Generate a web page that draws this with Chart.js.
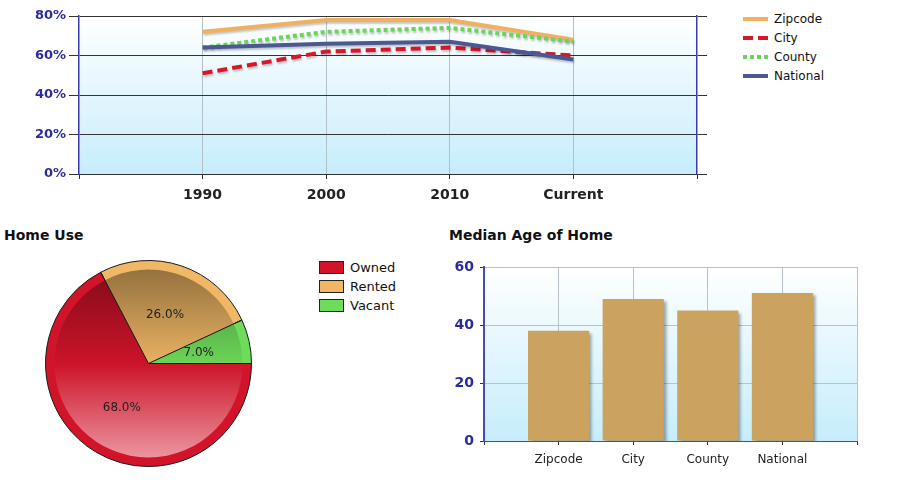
<!DOCTYPE html>
<html>
<head>
<meta charset="utf-8">
<script src="https://cdn.jsdelivr.net/npm/chart.js@4.4.1/dist/chart.umd.min.js"></script>
<style>
  body { margin: 0; width: 900px; height: 486px; background: #fff; position: relative; overflow: hidden; font-family: 'DejaVu Sans', sans-serif; }
  .box { position: absolute; }
  .title { position: absolute; font-weight: bold; font-size: 14px; line-height: 17px; color: #111; }
  .legend { position: absolute; color: #111; }
  .legend .row { display: flex; align-items: center; height: 19px; }
  .legend svg { margin-right: 6px; }
  .legend .swatch { width: 23px; height: 11px; border: 1px solid #222; margin-right: 6px; }
</style>
</head>
<body>
<div class="box" style="left:0;top:0;width:712px;height:215px"><canvas id="trendChart"></canvas></div>
<div class="legend" id="trendLegend" style="left:743px;top:9px;font-size:12px"></div>

<div class="title" style="left:4px;top:227px">Home Use</div>
<div class="box" style="left:45px;top:260px;width:207px;height:207px"><canvas id="useChart"></canvas></div>
<div class="legend" id="useLegend" style="left:319px;top:258px;font-size:13px"></div>

<div class="title" style="left:449px;top:227px">Median Age of Home</div>
<div class="box" style="left:420px;top:250px;width:445px;height:230px"><canvas id="ageChart"></canvas></div>

<script>
// ownership rate trend
const years = ['1990', '2000', '2010', 'Current'];
const zipcodeRate = [72, 78, 78, 68];
const cityRate = [51, 62, 64, 60];
const countyRate = [64, 72, 74, 67];
const nationalRate = [64, 66, 67, 58];
const rateTicks = [0, 20, 40, 60, 80];

// home use split
const useLabels = ['Owned', 'Rented', 'Vacant'];
const useShare = [68, 26, 7];

// median age of home
const areas = ['Zipcode', 'City', 'County', 'National'];
const medianAge = [38, 49, 45, 51];
const ageTicks = [0, 20, 40, 60];

const seriesNames = ['Zipcode', 'City', 'County', 'National'];
const seriesColors = ['#F0B060', '#D7182A', '#6CD45A', '#4C5892'];
const seriesDashes = [[], [10, 5], [4, 3], []];
const useColors = ['#D2142A', '#F0B865', '#6EDC5A'];

const FONT = 'DejaVu Sans';
const pad = arr => [null, ...arr, null];

function shade(hex, f) {
  const n = parseInt(hex.slice(1), 16);
  const r = Math.round(((n >> 16) & 255) * f), g = Math.round(((n >> 8) & 255) * f), b = Math.round((n & 255) * f);
  return `rgb(${r},${g},${b})`;
}
function tint(hex, t) {
  const n = parseInt(hex.slice(1), 16);
  const mix = c => Math.round(c * (1 - t) + 255 * t);
  return `rgb(${mix((n >> 16) & 255)},${mix((n >> 8) & 255)},${mix(n & 255)})`;
}

// gradient behind the plot area
const plotBackground = {
  id: 'plotBackground',
  beforeDraw(chart, args, opts) {
    const { ctx, chartArea: a } = chart;
    const g = ctx.createLinearGradient(0, a.top, 0, a.bottom);
    g.addColorStop(0, opts.colors[0]);
    g.addColorStop(1, opts.colors[1]);
    ctx.save();
    ctx.fillStyle = g;
    ctx.fillRect(a.left, a.top, a.width, a.height);
    ctx.restore();
  }
};

// soft drop shadow under lines and bars
const markShadow = {
  id: 'markShadow',
  beforeDatasetsDraw(chart, args, opts) {
    const ctx = chart.ctx;
    ctx.save();
    ctx.shadowColor = opts.color;
    ctx.shadowBlur = opts.blur;
    ctx.shadowOffsetX = opts.x;
    ctx.shadowOffsetY = opts.y;
  },
  afterDatasetsDraw(chart) {
    chart.ctx.restore();
  }
};

// shaded inner disc, slice edges and percentage labels
const pieShading = {
  id: 'pieShading',
  afterDatasetsDraw(chart) {
    const ctx = chart.ctx;
    const meta = chart.getDatasetMeta(0);
    const colors = chart.data.datasets[0].backgroundColor;
    meta.data.forEach((arc, i) => {
      const p = arc.getProps(['x', 'y', 'startAngle', 'endAngle', 'outerRadius']);
      const r = p.outerRadius - 9;
      const g = ctx.createLinearGradient(0, p.y - r, 0, p.y + r);
      g.addColorStop(0, shade(colors[i], 0.62));
      g.addColorStop(0.5, shade(colors[i], 0.97));
      g.addColorStop(1, tint(colors[i], 0.55));
      ctx.save();
      ctx.beginPath();
      ctx.moveTo(p.x, p.y);
      ctx.arc(p.x, p.y, r, p.startAngle, p.endAngle);
      ctx.closePath();
      ctx.fillStyle = g;
      ctx.fill();
      ctx.restore();
    });
    ctx.save();
    ctx.strokeStyle = '#1A1A1A';
    ctx.lineWidth = 1;
    meta.data.forEach(arc => {
      const p = arc.getProps(['x', 'y', 'startAngle', 'outerRadius']);
      ctx.beginPath();
      ctx.moveTo(p.x, p.y);
      ctx.lineTo(p.x + Math.cos(p.startAngle) * p.outerRadius, p.y + Math.sin(p.startAngle) * p.outerRadius);
      ctx.stroke();
    });
    ctx.fillStyle = '#222';
    ctx.font = `12px "${FONT}"`;
    ctx.textAlign = 'center';
    ctx.textBaseline = 'middle';
    meta.data.forEach((arc, i) => {
      const pos = arc.tooltipPosition();
      ctx.fillText(useShare[i].toFixed(1) + '%', pos.x, pos.y);
    });
    ctx.restore();
  }
};

// legends
document.getElementById('trendLegend').innerHTML = seriesNames.map((name, i) => `
  <div class="row">
    <svg width="25" height="8"><line x1="0" y1="4" x2="25" y2="4" stroke="${seriesColors[i]}" stroke-width="4" stroke-dasharray="${seriesDashes[i].join(' ') || 'none'}"/></svg>
    <span>${name}</span>
  </div>`).join('');

document.getElementById('useLegend').innerHTML = useLabels.map((name, i) => `
  <div class="row">
    <div class="swatch" style="background:${useColors[i]}"></div>
    <span>${name}</span>
  </div>`).join('');

const rateData = [zipcodeRate, cityRate, countyRate, nationalRate];

new Chart(document.getElementById('trendChart'), {
  type: 'line',
  data: {
    labels: ['', ...years, ''],
    datasets: seriesNames.map((name, i) => ({
      label: name,
      data: pad(rateData[i]),
      borderColor: seriesColors[i],
      borderWidth: 4,
      borderDash: seriesDashes[i],
      order: seriesNames.length - i
    }))
  },
  options: {
    responsive: true,
    maintainAspectRatio: false,
    animation: false,
    layout: { padding: { top: 16, right: 5, left: 0, bottom: 0 } },
    elements: { point: { radius: 0 }, line: { tension: 0, fill: false } },
    plugins: {
      legend: { display: false },
      tooltip: { enabled: false },
      plotBackground: { colors: ['#FFFFFF', '#C6EDFC'] },
      markShadow: { color: 'rgba(0,0,0,0.22)', blur: 2, x: 1, y: 2 }
    },
    scales: {
      x: {
        grid: {
          color: c => (c.index === 0 || c.index === 5) ? 'rgba(0,0,0,0)' : '#B4C0C8',
          tickColor: '#333',
          tickLength: 5
        },
        border: { color: '#333' },
        ticks: { color: '#222', font: { family: FONT, size: 14, weight: 'bold' }, padding: 8, autoSkip: false, maxRotation: 0 },
        afterFit(s) { s.height = 41; }
      },
      y: {
        min: rateTicks[0],
        max: rateTicks[rateTicks.length - 1],
        ticks: { stepSize: rateTicks[1] - rateTicks[0], callback: v => v + '%', color: '#2B2B9C', font: { family: FONT, size: 13, weight: 'bold' }, padding: 3 },
        grid: { color: '#333', tickLength: 10 },
        border: { color: '#3A3AB0', width: 1.5 },
        afterFit(s) { s.width = 79; }
      },
      y2: {
        position: 'right',
        min: rateTicks[0],
        max: rateTicks[rateTicks.length - 1],
        ticks: { display: false, stepSize: rateTicks[1] - rateTicks[0] },
        grid: { drawOnChartArea: false, color: '#333', tickLength: 10 },
        border: { color: '#3A3AB0', width: 1.5 },
        afterFit(s) { s.width = 10; }
      }
    }
  },
  plugins: [plotBackground, markShadow]
});

new Chart(document.getElementById('useChart'), {
  type: 'pie',
  data: {
    labels: useLabels,
    datasets: [{ data: useShare, backgroundColor: useColors, borderColor: '#1A1A1A', borderWidth: 1 }]
  },
  options: {
    responsive: true,
    maintainAspectRatio: false,
    animation: false,
    rotation: 90,
    layout: { padding: 0 },
    plugins: { legend: { display: false }, tooltip: { enabled: false } }
  },
  plugins: [pieShading]
});

new Chart(document.getElementById('ageChart'), {
  type: 'bar',
  data: {
    labels: ['', ...areas, ''],
    datasets: [{ data: pad(medianAge), backgroundColor: '#CBA35E', borderWidth: 0, barPercentage: 0.82, categoryPercentage: 1 }]
  },
  options: {
    responsive: true,
    maintainAspectRatio: false,
    animation: false,
    layout: { padding: { top: 17, right: 7, left: 0, bottom: 0 } },
    plugins: {
      legend: { display: false },
      tooltip: { enabled: false },
      plotBackground: { colors: ['#FFFFFF', '#C6EDFC'] },
      markShadow: { color: 'rgba(0,0,0,0.35)', blur: 3, x: 3, y: 2 }
    },
    scales: {
      x: {
        offset: false,
        grid: {
          offset: false,
          color: c => c.index === 0 ? 'rgba(0,0,0,0)' : '#B8C2CA',
          tickColor: '#333',
          tickLength: 4
        },
        border: { color: '#555' },
        ticks: { color: '#222', font: { family: FONT, size: 12 }, padding: 8, autoSkip: false, maxRotation: 0 },
        afterFit(s) { s.height = 39; }
      },
      y: {
        min: ageTicks[0],
        max: ageTicks[ageTicks.length - 1],
        ticks: { stepSize: ageTicks[1] - ageTicks[0], color: '#2B2B9C', font: { family: FONT, size: 14, weight: 'bold' }, padding: 6 },
        grid: { color: '#B8C2CA', tickColor: '#333', tickLength: 4 },
        border: { color: '#4848B8', width: 2 },
        afterFit(s) { s.width = 64; }
      }
    }
  },
  plugins: [plotBackground, markShadow]
});
</script>
</body>
</html>
